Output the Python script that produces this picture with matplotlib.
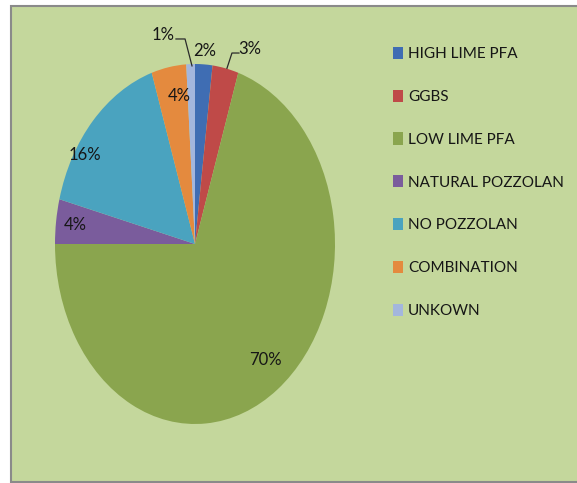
import numpy as np
import matplotlib
matplotlib.use("Agg")
import matplotlib.pyplot as plt
from matplotlib.patches import Rectangle, Patch

categories = ["HIGH LIME PFA", "GGBS", "LOW LIME PFA", "NATURAL POZZOLAN",
              "NO POZZOLAN", "COMBINATION", "UNKOWN"]
values = [2, 3, 70, 4, 16, 4, 1]
colors = ["#3f6db3", "#bf4a48", "#8aa54e", "#7a5c9c", "#4aa3bf", "#e48a3e", "#a3b6dd"]

plt.rcParams['font.family'] = ['Lato', 'DejaVu Sans']

W, H = 577, 483
fig = plt.figure(figsize=(W / 100, H / 100), dpi=100)
fig.patch.set_facecolor("white")

# panel background
bg = fig.add_axes([0, 0, 1, 1], zorder=-5)
bg.set_xlim(0, W)
bg.set_ylim(H, 0)
bg.axis('off')
bg.add_patch(Rectangle((11, 6), W - 11 + 5, H - 7.5, facecolor="#c4d79c",
                       edgecolor="#8a8a8a", linewidth=1.5))

cx, cy, rx, ry = 195, 244, 140, 180
ax = fig.add_axes([(cx - rx) / W, (H - cy - ry) / H, 2 * rx / W, 2 * ry / H])
ax.set_facecolor("none")

wedges, _ = ax.pie(values, colors=colors, startangle=90, counterclock=False,
                   radius=1.0, wedgeprops=dict(linewidth=0))
ax.set_aspect('auto')
ax.set_xlim(-1, 1)
ax.set_ylim(-1, 1)
ax.axis('off')

txtc = "#161616"
fs = 12
# inside labels: (index, radius, angle offset deg)
inside = {2: (0.82, 2), 3: (0.86, 0), 4: (0.93, 11), 5: (0.83, -3)}
for i, (r, da) in inside.items():
    w = wedges[i]
    ang = np.deg2rad((w.theta1 + w.theta2) / 2 + da)
    ax.text(r * np.cos(ang), r * np.sin(ang), f"{values[i]}%", ha="center",
            va="center", fontsize=fs, color=txtc)

def mid(i):
    w = wedges[i]
    a = np.deg2rad((w.theta1 + w.theta2) / 2)
    return np.cos(a), np.sin(a)

# 1% (UNKOWN)
ex, ey = mid(6)
ax.plot([ex + 0.01, -0.071, -0.136], [ey - 0.01, 1.139, 1.139], color="#2a2a2a", lw=0.9,
        clip_on=False)
ax.text(-0.229, 1.161, f"{values[6]}%", ha="center", va="center", fontsize=fs, color=txtc)
# 2% (HIGH LIME PFA)
ax.text(0.071, 1.075, f"{values[0]}%", ha="center", va="center", fontsize=fs, color=txtc)
# 3% (GGBS)
ex, ey = mid(1)
ax.plot([ex + 0.01, 0.264, 0.314], [ey, 1.061, 1.061], color="#2a2a2a", lw=0.9,
        clip_on=False)
ax.text(0.393, 1.085, f"{values[1]}%", ha="center", va="center", fontsize=fs, color=txtc)

handles = [Patch(facecolor=c, edgecolor="none") for c in colors]
fig.legend(handles, categories, loc="upper left", bbox_to_anchor=(379 / W, 1 - 33 / H),
           frameon=False, fontsize=11, handlelength=0.65, handleheight=0.85,
           handletextpad=0.35, labelspacing=1.86, labelcolor=txtc)

fig.savefig("out.png", dpi=100, facecolor="white")
